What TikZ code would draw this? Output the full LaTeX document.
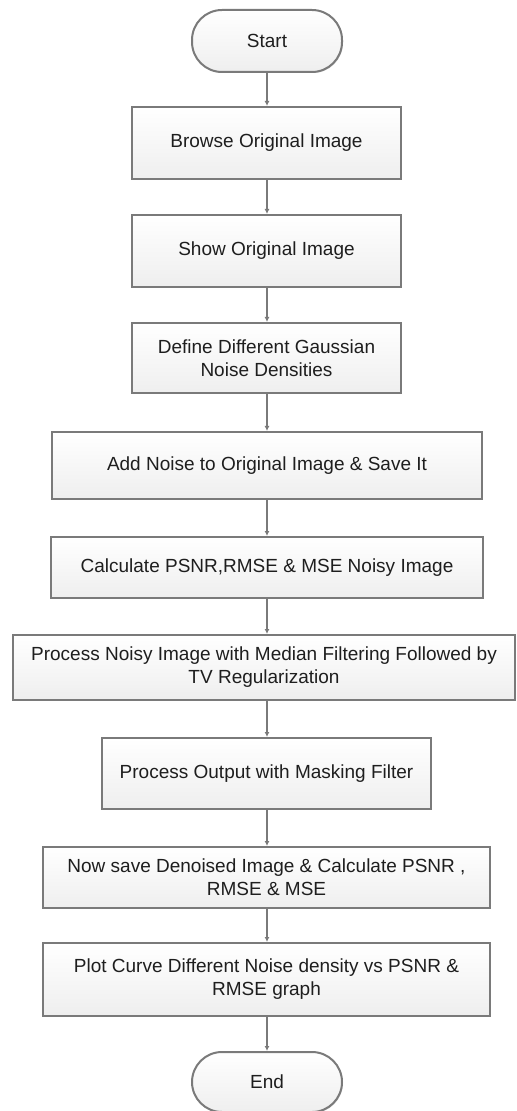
\documentclass[tikz,border=0pt]{standalone}
\usepackage{fontspec}
\setmainfont{Liberation Sans}
\usetikzlibrary{arrows.meta,shadows}
\definecolor{linegray}{HTML}{7A7A7A}
\definecolor{textgray}{HTML}{1E1E1E}

\begin{document}
\begin{tikzpicture}[x=0.5pt,y=-0.5pt]
    \tikzstyle{every node}=[text=textgray,font=\fontsize{9.5}{11.5}\selectfont,align=center,inner sep=0pt]
    \tikzstyle{stepbox}=[rectangle,draw=linegray,line width=1pt,top color=white,bottom color=gray!13,
      drop shadow={shadow xshift=0.5pt,shadow yshift=-0.5pt,opacity=0.3,fill=gray}]
    \tikzstyle{terminal}=[stepbox,rounded corners=15pt]
    \tikzstyle{flow}=[draw=linegray,line width=1pt,-{Latex[length=2.5pt,width=2.5pt]}]
    \useasboundingbox (0,0) rectangle (516,1111);
    \node[terminal,minimum width=75pt,minimum height=31pt] (start) at (267,41) {Start};
    \node[stepbox,minimum width=134.5pt,minimum height=36pt] (browse) at (266.5,143) {Browse Original Image};
    \node[stepbox,minimum width=134.5pt,minimum height=36pt] (show) at (266.5,251) {Show Original Image};
    \node[stepbox,minimum width=134.5pt,minimum height=35pt] (gauss) at (266.5,358)
      {Define Different Gaussian\\ Noise Densities};
    \node[stepbox,minimum width=215pt,minimum height=33.5pt] (addnoise) at (267,465.5)
      {Add Noise to Original Image \& Save It};
    \node[stepbox,minimum width=216pt,minimum height=30.5pt] (noisypsnr) at (267,567.5)
      {Calculate PSNR,RMSE \& MSE Noisy Image};
    \node[stepbox,minimum width=251pt,minimum height=32.5pt] (median) at (264,667.5)
      {Process Noisy Image with Median Filtering Followed by\\ TV Regularization};
    \node[stepbox,minimum width=164.5pt,minimum height=35.5pt] (masking) at (266.5,773.5)
      {Process Output with Masking Filter};
    \node[stepbox,minimum width=223.5pt,minimum height=30.5pt] (denoised) at (266.5,877.5)
      {Now save Denoised Image \& Calculate PSNR ,\\ RMSE \& MSE};
    \node[stepbox,minimum width=223.5pt,minimum height=36.5pt] (plot) at (266.5,979.5)
      {Plot Curve Different Noise density vs PSNR \&\\ RMSE graph};
    \node[terminal,minimum width=75pt,minimum height=30pt] (end) at (267,1082) {End};
    % connectors along the middle line
    \foreach \a/\b in {start/browse,browse/show,show/gauss,gauss/addnoise,addnoise/noisypsnr,
      noisypsnr/median,median/masking,masking/denoised,denoised/plot,plot/end}
      \draw[flow] (\a.south -| start) -- (\b.north -| start);
\end{tikzpicture}
\end{document}
